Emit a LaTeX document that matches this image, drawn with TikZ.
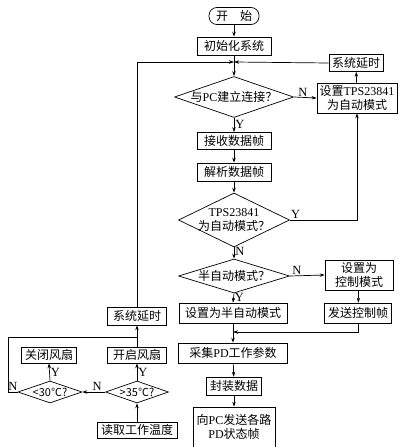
\documentclass[tikz,border=0pt]{standalone}
\usepackage{fontspec}
\setmainfont{Noto Sans CJK SC}
\newfontfamily\lat{Liberation Serif}
\usetikzlibrary{shapes.geometric,arrows.meta}

\begin{document}
\begin{tikzpicture}[
        x=1pt, y=-1pt,
        line width=0.7pt,
        font=\fontsize{12}{13.5}\selectfont,
        >={Stealth[length=5pt,width=3.5pt]},
        term/.style={
            draw,
            rounded corners=8pt,
            minimum width=50pt,
            minimum height=17pt,
            inner sep=1pt
        },
        box/.style={
            draw,
            align=center,
            inner sep=1pt
        },
        cond/.style={
            draw,
            diamond,
            align=center,
            inner sep=-3pt
        },
        lbl/.style={font=\lat\fontsize{12.5}{13}\selectfont, inner sep=1pt}
    ]
        \useasboundingbox (0,0) rectangle (399,447);

        % main column
        \node[term] (start) at (234,16) {开\quad 始};
        \node[box, minimum width=74pt, minimum height=18pt] (init) at (234,46) {初始化系统};
        \node[cond, aspect=2.9, minimum width=119pt, minimum height=41pt] (d1) at (234,97) {与{\lat PC}建立连接？};
        \node[box, minimum width=74pt, minimum height=17pt] (recv) at (234,141) {接收数据帧};
        \node[box, minimum width=74pt, minimum height=18pt] (parse) at (234,172) {解析数据帧};
        \node[cond, aspect=2.06, minimum width=111pt, minimum height=54pt] (d2) at (234,220) {{\lat TPS23841}\\为自动模式？};
        \node[cond, aspect=3.26, minimum width=111pt, minimum height=34pt] (d3) at (234,276) {半自动模式？};
        \node[box, minimum width=108pt, minimum height=20pt] (setsemi) at (233,313) {设置为半自动模式};
        \node[box, minimum width=109pt, minimum height=20pt] (collect) at (233,353) {采集{\lat PD}工作参数};
        \node[box, minimum width=55pt, minimum height=18pt] (pack) at (234,386) {封装数据};
        \node[box, minimum width=82pt, minimum height=40pt] (sendpc) at (234,427) {向{\lat PC}发送各路\\{\lat PD}状态帧};

        % right column
        \node[box, minimum width=54pt, minimum height=17pt] (delayR) at (356,63) {系统延时};
        \node[box, minimum width=80pt, minimum height=30pt] (setauto) at (357,98) {设置{\lat TPS23841}\\为自动模式};
        \node[box, minimum width=68pt, minimum height=30pt] (setctl) at (359,275) {设置为\\控制模式};
        \node[box, minimum width=67pt, minimum height=20pt] (sendctl) at (358,313) {发送控制帧};

        % temperature loop
        \node[box, minimum width=59pt, minimum height=18pt] (delayL) at (137,316) {系统延时};
        \node[box, minimum width=59pt, minimum height=16pt] (fanon) at (137,355) {开启风扇};
        \node[box, minimum width=55pt, minimum height=16pt] (fanoff) at (49,355) {关闭风扇};
        \node[cond, aspect=2.9, minimum width=63pt, minimum height=22pt, font=\fontsize{11}{12}\selectfont] (d35) at (137,392) {>35℃?};
        \node[cond, aspect=2.9, minimum width=64pt, minimum height=22pt, font=\fontsize{11}{12}\selectfont] (d30) at (50,392) {<30℃?};
        \node[box, minimum width=80pt, minimum height=16pt] (readT) at (137,430) {读取工作温度};

        \coordinate (m1) at (234,62);
        \coordinate (m2) at (233,332);
        \coordinate (m3) at (137,337);
        \coordinate (lc) at (8,337);

        \draw[->] (start) -- (init);
        \draw[->] (init) -- (d1);
        \draw[->] (delayL.north) |- (m1);
        \draw[->] (delayR.west) -- (m1);
        \draw[->] (d1.east) -- node[lbl, above, pos=0.4] {N} (setauto.west);
        \draw[->] (setauto) -- (delayR);
        \draw[->] (d1.south) -- node[lbl, right, pos=0.45] {Y} (recv.north);
        \draw[->] (recv) -- (parse);
        \draw[->] (parse) -- (d2);
        \draw[->] (d2.east) -| node[lbl, above right, pos=0] {Y} (setauto.south);
        \draw[->] (d2.south) -- node[lbl, right, pos=0.4] {N} (d3.north);
        \draw[->] (d3.east) -- node[lbl, above, pos=0.2] {N} (setctl.west);
        \draw[->] (d3.south) -- node[lbl, right, pos=0.4] {Y} (setsemi.north);
        \draw[->] (setctl) -- (sendctl);
        \draw[->] (setsemi) -- (collect);
        \draw[->] (sendctl.south) |- (m2);
        \draw[->] (collect) -- (pack);
        \draw[->] (pack) -- (sendpc);

        \draw[->] (readT) -- (d35);
        \draw[->] (d35.north) -- node[lbl, right] {Y} (fanon.south);
        \draw[->] (d35.west) -- node[lbl, above, pos=0.35] {N} (d30.east);
        \draw[->] (d30.north) -- node[lbl, right] {Y} (fanoff.south);
        \draw (d30.west) -| node[lbl, above, pos=0.25] {N} (lc) -- (m3);
        \draw[->] (fanon) -- (delayL);
    \end{tikzpicture}
\end{document}
